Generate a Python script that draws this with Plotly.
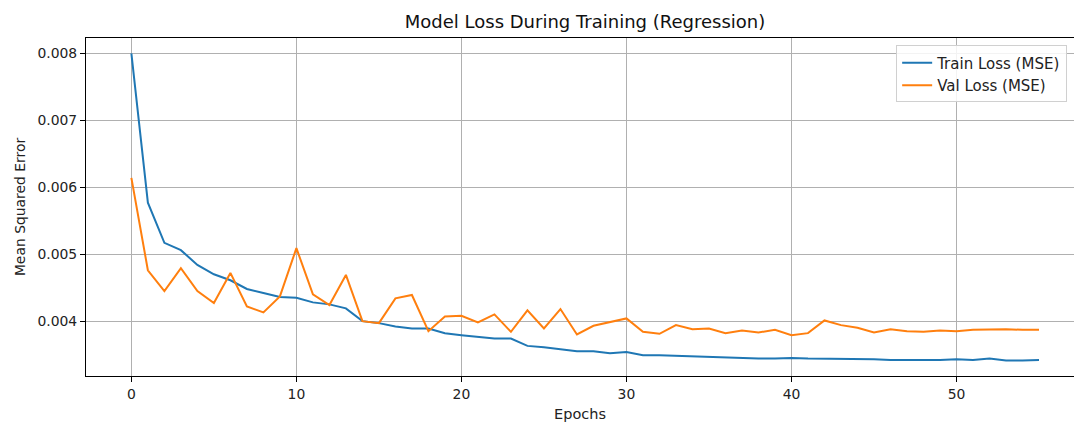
import plotly.graph_objects as go

epochs = list(range(56))

train_loss = [
    0.00800, 0.00577, 0.00517, 0.00506, 0.00484, 0.00470, 0.00461, 0.00448,
    0.00442, 0.00436, 0.00435, 0.00428, 0.00425, 0.00419, 0.00400, 0.00397,
    0.00392, 0.00389, 0.00389, 0.00382, 0.00379, 0.00376, 0.00374, 0.00374,
    0.00363, 0.00361, 0.00358, 0.00355, 0.00355, 0.00352, 0.00354, 0.00349,
    0.00349, 0.00348, 0.00347, 0.00346, 0.00346, 0.00345, 0.00344, 0.00344,
    0.00345, 0.00344, 0.00344, 0.00343, 0.00343, 0.00343, 0.00342, 0.00342,
    0.00341, 0.00342, 0.00343, 0.00342, 0.00344, 0.00341, 0.00341, 0.00342,
]

val_loss = [
    0.00614, 0.00476, 0.00445, 0.00479, 0.00445, 0.00427, 0.00472, 0.00422,
    0.00413, 0.00437, 0.00509, 0.00440, 0.00424, 0.00469, 0.00400, 0.00397,
    0.00434, 0.00439, 0.00385, 0.00407, 0.00408, 0.00398, 0.00410, 0.00384,
    0.00416, 0.00389, 0.00418, 0.00380, 0.00393, 0.00399, 0.00404, 0.00384,
    0.00381, 0.00394, 0.00388, 0.00389, 0.00382, 0.00386, 0.00383, 0.00387,
    0.00379, 0.00382, 0.00401, 0.00394, 0.00390, 0.00383, 0.00388, 0.00385,
    0.00384, 0.00386, 0.00385, 0.00387, 0.00388, 0.00388, 0.00387, 0.00387,
]

y_ticks = [0.004, 0.005, 0.006, 0.007, 0.008]
x_ticks = [0, 10, 20, 30, 40, 50]

FONT = "DejaVu Sans, sans-serif"
GRID = "#b0b0b0"

fig = go.Figure()
fig.add_trace(go.Scatter(x=epochs, y=train_loss, mode="lines",
                         name="Train Loss (MSE)",
                         line=dict(color="#1f77b4", width=2)))
fig.add_trace(go.Scatter(x=epochs, y=val_loss, mode="lines",
                         name="Val Loss (MSE)",
                         line=dict(color="#ff7f0e", width=2)))

fig.update_layout(
    width=1074, height=423,
    margin=dict(l=86, r=0, t=38, b=47),
    paper_bgcolor="white", plot_bgcolor="white",
    font=dict(family=FONT, size=14, color="#222222"),
    title=dict(text="Model Loss During Training (Regression)",
               x=585 / 1074, xref="container", xanchor="center",
               y=1 - 22 / 423, yref="container", yanchor="middle",
               font=dict(family=FONT, size=18, color="#111111")),
    legend=dict(x=0.82, y=0.978, xanchor="left", yanchor="top",
                bgcolor="rgba(255,255,255,0.85)", bordercolor="#d0d0d0",
                borderwidth=1, font=dict(family=FONT, size=15, color="#222222"),
                tracegroupgap=2),
    showlegend=True,
)

fig.update_xaxes(
    range=[-2.75, 57.12], tickvals=x_ticks,
    showgrid=True, gridcolor=GRID, gridwidth=1,
    showline=True, linecolor="black", linewidth=1, mirror=True,
    ticks="outside", ticklen=5, tickcolor="black", tickwidth=1,
    tickfont=dict(family=FONT, size=13.9, color="#222222"),
    zeroline=False,
    title=dict(text="Epochs", standoff=8,
               font=dict(family=FONT, size=14.5, color="#222222")),
)
fig.update_yaxes(
    range=[0.00318, 0.00823], tickvals=y_ticks, tickformat=".3f",
    showgrid=True, gridcolor=GRID, gridwidth=1,
    showline=True, linecolor="black", linewidth=1, mirror=False,
    ticks="outside", ticklen=5, tickcolor="black", tickwidth=1,
    tickfont=dict(family=FONT, size=13.9, color="#222222"),
    zeroline=False,
    title=dict(text="Mean Squared Error", standoff=8,
               font=dict(family=FONT, size=13.9, color="#222222")),
)

fig.write_html("out.html")
